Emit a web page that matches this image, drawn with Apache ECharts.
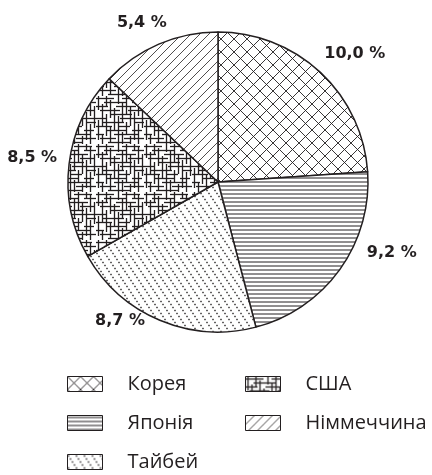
<!DOCTYPE html>
<html><head><meta charset="utf-8">
<script src="https://cdn.jsdelivr.net/npm/echarts@6/dist/echarts.min.js"></script>
<style>html,body{margin:0;padding:0;background:#fff}#c{width:432px;height:475px}</style>
</head><body><div id="c"></div>
<script>
const categories = ['Корея', 'Японія', 'Тайбей', 'США', 'Німмеччина'];
const values = [10.0, 9.2, 8.7, 8.5, 5.4];
const legendCol1 = ['Корея', 'Японія', 'Тайбей'];
const legendCol2 = ['США', 'Німмеччина'];

const INK = '#231f20';
function tile(w, h, draw) {
  const c = document.createElement('canvas');
  c.width = w; c.height = h;
  const g = c.getContext('2d');
  g.fillStyle = '#fff'; g.fillRect(0, 0, w, h);
  g.strokeStyle = INK; g.fillStyle = INK;
  draw(g, w, h);
  return { image: c, repeat: 'repeat' };
}
function line(g, x1, y1, x2, y2, lw) {
  g.lineWidth = lw; g.beginPath(); g.moveTo(x1, y1); g.lineTo(x2, y2); g.stroke();
}
const patCross = tile(13, 13, (g, w, h) => {
  for (const o of [-w, 0, w]) {
    line(g, o, 0, o + w, h, 0.9);
    line(g, o, h, o + w, 0, 0.9);
  }
});
const patHoriz = tile(8, 4, (g, w, h) => { line(g, 0, 2, w, 2, 1); });
const patDots = tile(8, 12, (g, w, h) => {
  for (const o of [-w, 0, w]) {
    for (let k = 0; k < 4; k++) {
      const t = (k + 0.5) / 4;
      g.fillRect(o + t * w - 0.7, t * h - 0.7, 1.4, 1.4);
    }
  }
});
const patDiag = tile(9, 9, (g, w, h) => {
  for (const o of [-w, 0, w]) line(g, o, h, o + w, 0, 0.8);
});
const patGrid = tile(48, 48, (g, w, h) => {
  const lw = 1.3;
  const hs = [[0,2,18],[26,2,44],[8,6,30],[36,6,48],[0,10,12],[20,10,40],[4,14,24],[32,14,46],[14,18,36],
    [0,22,10],[24,22,48],[6,26,28],[38,26,48],[0,30,16],[22,30,34],[10,34,30],[36,34,46],[0,38,8],[18,38,42],
    [4,42,20],[28,42,48],[12,46,34]];
  const vs = [[2,0,14],[2,24,44],[6,8,30],[6,38,48],[10,0,10],[10,18,40],[14,4,22],[14,30,46],[18,12,34],
    [22,0,8],[22,20,48],[26,6,26],[26,36,48],[30,0,18],[30,26,38],[34,10,30],[34,40,48],[38,0,6],[38,16,44],
    [42,2,20],[42,28,48],[46,10,32]];
  for (const [x1,y,x2] of hs) line(g, x1, y + 0.5, x2, y + 0.5, lw);
  for (const [x,y1,y2] of vs) line(g, x + 0.5, y1, x + 0.5, y2, lw);
});
const patterns = [patCross, patHoriz, patDots, patGrid, patDiag];
const labelShift = [[-8, -11], [14, -23], [-6, -9], [3, -5], [17, -12]];

const chart = echarts.init(document.getElementById('c'), null, { renderer: 'canvas' });
const legendBase = {
  orient: 'vertical', icon: 'rect', itemWidth: 35, itemHeight: 15, itemGap: 19,
  padding: 0, height: 120, selectedMode: false,
  itemStyle: { borderColor: INK, borderWidth: 1 },
  textStyle: { fontFamily: 'Open Sans', fontSize: 20, lineHeight: 20, color: INK, padding: [0, 0, 0, 20] }
};
chart.setOption({
  animation: false,
  backgroundColor: '#fff',
  legend: [
    Object.assign({}, legendBase, { left: 67, top: 374, data: legendCol1 }),
    Object.assign({}, legendBase, { left: 245, top: 374, data: legendCol2 })
  ],
  series: [{
    type: 'pie',
    center: [218, 182],
    radius: 150,
    startAngle: 90,
    clockwise: true,
    silent: true,
    label: {
      show: true, position: 'outside', overflow: 'none',
      fontFamily: 'DejaVu Sans', fontWeight: 'bold', fontSize: 16, color: INK,
      formatter: p => p.value.toFixed(1).replace('.', ',') + ' %'
    },
    labelLine: { show: false, length: 10, length2: 0 },
    labelLayout: p => ({ dx: labelShift[p.dataIndex][0], dy: labelShift[p.dataIndex][1] }),
    itemStyle: { borderColor: INK, borderWidth: 1.5 },
    data: categories.map((n, i) => ({ name: n, value: values[i], itemStyle: { color: patterns[i] } }))
  }]
});
</script></body></html>
